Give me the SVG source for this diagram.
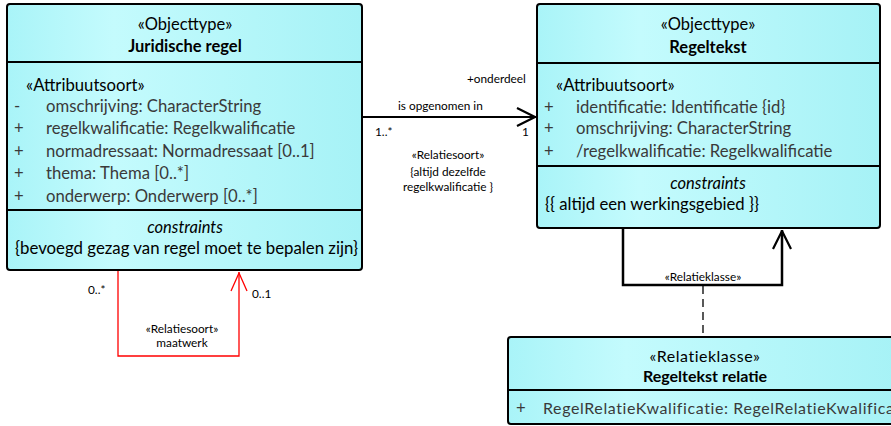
<svg xmlns="http://www.w3.org/2000/svg" width="891" height="426" viewBox="0 0 891 426">
<defs>
<linearGradient id="fillg" x1="0" y1="0" x2="1" y2="0">
<stop offset="0" stop-color="#a9f4f8"/>
<stop offset="0.3" stop-color="#c4fbfd"/>
<stop offset="1" stop-color="#a6f2f6"/>
</linearGradient>
<marker id="openB" viewBox="0 0 20 20" refX="20" refY="10" markerWidth="20" markerHeight="20" markerUnits="userSpaceOnUse" orient="auto">
<path d="M1,1 L19,10 L1,19" fill="none" stroke="#000" stroke-width="2.2"/>
</marker>
<marker id="openR" viewBox="0 0 20 20" refX="20" refY="10" markerWidth="20" markerHeight="20" markerUnits="userSpaceOnUse" orient="auto">
<path d="M1,2 L19,10 L1,18" fill="none" stroke="#ff0000" stroke-width="1.3"/>
</marker>
</defs>
<style>
.box{fill:url(#fillg);stroke:#000;stroke-width:2}
.div{stroke:#000;stroke-width:2}
text{font-family:Lato,"Liberation Sans",sans-serif}
.hd{font-size:16.5px;fill:#000;text-anchor:middle}
.nm{font-size:16.5px;font-weight:bold;fill:#000;text-anchor:middle}
.at{font-size:16.7px;fill:#3a3a3a}
.ct{font-size:16.5px;font-style:italic;fill:#000;text-anchor:middle}
.cv{font-size:16.7px;fill:#000}
.lb{font-size:11.8px;fill:#000}
.lbc{font-size:11.8px;fill:#000;text-anchor:middle}
</style>
<g id="connectors">
<path d="M363,117 H536" fill="none" stroke="#000" stroke-width="2" marker-end="url(#openB)"/>
<path d="M623,229 V285 H782 V230" fill="none" stroke="#000" stroke-width="2.5" marker-end="url(#openB)"/>
<path d="M703,286 V337" fill="none" stroke="#000" stroke-width="1.3" stroke-dasharray="8,5"/>
<path d="M118,271 V356 H239 V272" fill="none" stroke="#ff0000" stroke-width="1.3" marker-end="url(#openR)"/>
<text class="lb" x="467" y="83">+onderdeel</text>
<text class="lb" x="398" y="110">is opgenomen in</text>
<text class="lb" x="375" y="136">1..*</text>
<text class="lb" x="522" y="136">1</text>
<text class="lbc" x="448" y="159">«Relatiesoort»</text>
<text class="lbc" x="448" y="176">{altijd dezelfde</text>
<text class="lbc" x="448" y="191">regelkwalificatie }</text>
<text class="lbc" x="703" y="281">«Relatieklasse»</text>
<text class="lb" x="88" y="294">0..*</text>
<text class="lb" x="252" y="298">0..1</text>
<text class="lbc" x="182" y="333">«Relatiesoort»</text>
<text class="lbc" x="182" y="347">maatwerk</text>
</g>
<g id="juridische-regel">
<rect class="box" x="7" y="4" width="355" height="266" rx="3"/>
<line class="div" x1="7" y1="62" x2="362" y2="62"/>
<line class="div" x1="7" y1="210" x2="362" y2="210"/>
<text class="hd" x="185" y="30">«Objecttype»</text>
<text class="nm" x="185" y="52">Juridische regel</text>
<text class="at" x="26" y="91" style="fill:#000">«Attribuutsoort»</text>
<text class="at" x="14" y="112">-</text><text class="at" x="46" y="112">omschrijving: CharacterString</text>
<text class="at" x="14" y="134">+</text><text class="at" x="46" y="134">regelkwalificatie: Regelkwalificatie</text>
<text class="at" x="14" y="157">+</text><text class="at" x="46" y="157">normadressaat: Normadressaat [0..1]</text>
<text class="at" x="14" y="179">+</text><text class="at" x="46" y="179">thema: Thema [0..*]</text>
<text class="at" x="14" y="202">+</text><text class="at" x="46" y="202">onderwerp: Onderwerp [0..*]</text>
<text class="ct" x="185" y="233">constraints</text>
<text class="cv" x="15" y="254" textLength="343" lengthAdjust="spacingAndGlyphs">{bevoegd gezag van regel moet te bepalen zijn}</text>
</g>
<g id="regeltekst">
<rect class="box" x="537" y="4" width="343" height="224" rx="3"/>
<line class="div" x1="537" y1="63" x2="880" y2="63"/>
<line class="div" x1="537" y1="166" x2="880" y2="166"/>
<text class="hd" x="708" y="30">«Objecttype»</text>
<text class="nm" x="708" y="53">Regeltekst</text>
<text class="at" x="556" y="91" style="fill:#000">«Attribuutsoort»</text>
<text class="at" x="544" y="113">+</text><text class="at" x="576" y="113">identificatie: Identificatie {id}</text>
<text class="at" x="544" y="134">+</text><text class="at" x="576" y="134">omschrijving: CharacterString</text>
<text class="at" x="544" y="157">+</text><text class="at" x="576" y="157">/regelkwalificatie: Regelkwalificatie</text>
<text class="ct" x="708" y="189">constraints</text>
<text class="cv" x="545" y="210">{{ altijd een werkingsgebied }}</text>
</g>
<g id="regeltekst-relatie">
<rect class="box" x="508" y="337" width="394" height="87" rx="3"/>
<line class="div" x1="508" y1="390" x2="902" y2="390"/>
<text class="hd" x="705" y="362" style="font-size:16px;letter-spacing:0.5px">«Relatieklasse»</text>
<text class="nm" x="705" y="382" style="font-size:16px">Regeltekst relatie</text>
<text class="at" x="516" y="414">+</text><text class="at" x="543" y="414" style="font-size:16px;letter-spacing:0.6px">RegelRelatieKwalificatie: RegelRelatieKwalificatie</text>
</g>
</svg>
